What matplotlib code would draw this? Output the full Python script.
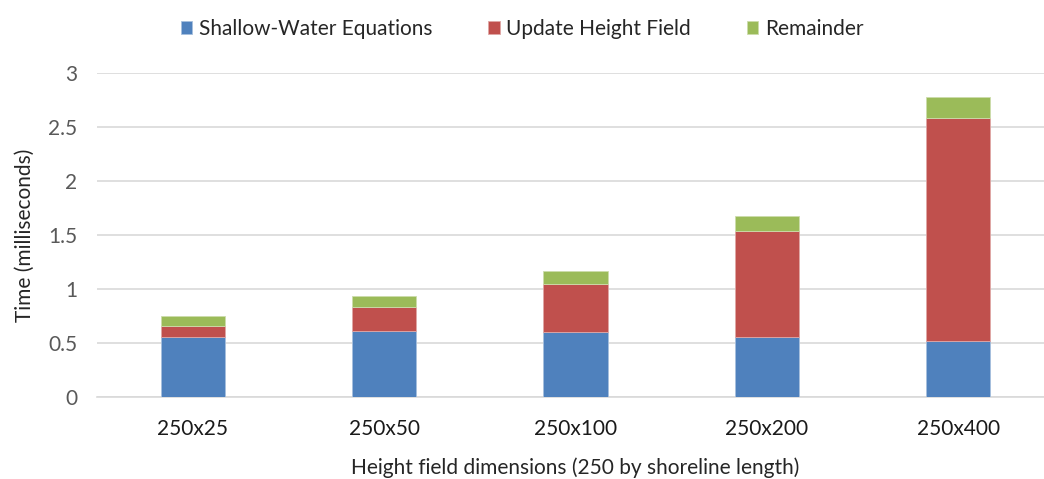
import matplotlib.pyplot as plt
import numpy as np

plt.rcParams['font.family'] = ['Lato', 'DejaVu Sans']

dims = ['250x25', '250x50', '250x100', '250x200', '250x400']
swe = [0.552, 0.611, 0.604, 0.553, 0.521]
update_h = [0.108, 0.225, 0.442, 0.987, 2.065]
remainder = [0.092, 0.099, 0.120, 0.139, 0.192]

fig = plt.figure(figsize=(10.44, 4.79), dpi=100)
ax = fig.add_axes([97 / 1044, 82 / 479, 957 / 1044, 324 / 479])

x = np.arange(len(dims))
w = 0.335
swe_a = np.array(swe)
upd_a = np.array(update_h)
ax.bar(x, swe, w, color='#4F81BD', edgecolor='#A7C0DE', linewidth=0.6, label='Shallow-Water Equations', zorder=3)
ax.bar(x, update_h, w, bottom=swe_a, color='#C0504D', edgecolor='#DFA7A6', linewidth=0.6, label='Update Height Field', zorder=3)
ax.bar(x, remainder, w, bottom=swe_a + upd_a, color='#9BBB59', edgecolor='#CDDDAC', linewidth=0.6, label='Remainder', zorder=3)

ax.set_xlim(-0.5, len(dims) - 0.5)
ax.set_ylim(0, 3)
ax.set_yticks([0, 0.5, 1, 1.5, 2, 2.5, 3])
ax.set_yticklabels(['0', '0.5', '1', '1.5', '2', '2.5', '3'])
ax.set_xticks(x)
ax.set_xticklabels(dims)
ax.yaxis.grid(True, color='#D9D9D9', linewidth=1.2, zorder=0)
for s in ['top', 'right', 'left']:
    ax.spines[s].set_visible(False)
ax.spines['bottom'].set_color('#D9D9D9')
ax.spines['bottom'].set_linewidth(1.2)
ax.tick_params(axis='both', length=0, labelsize=15)
ax.tick_params(axis='y', pad=14, colors='#595959')
ax.tick_params(axis='x', pad=16, colors='#1a1a1a')

ax.set_xlabel('Height field dimensions (250 by shoreline length)', fontsize=15, color='#262626', labelpad=13)
ax.set_ylabel('Time (milliseconds)', fontsize=15, color='#262626', labelpad=10)

fig.legend(loc='upper center', bbox_to_anchor=(0.5, 1.0), ncol=3, frameon=False,
           fontsize=15, handlelength=0.55, handleheight=0.55, handletextpad=0.3,
           columnspacing=2.7, labelcolor='#262626')

fig.savefig('out.png', dpi=100)
